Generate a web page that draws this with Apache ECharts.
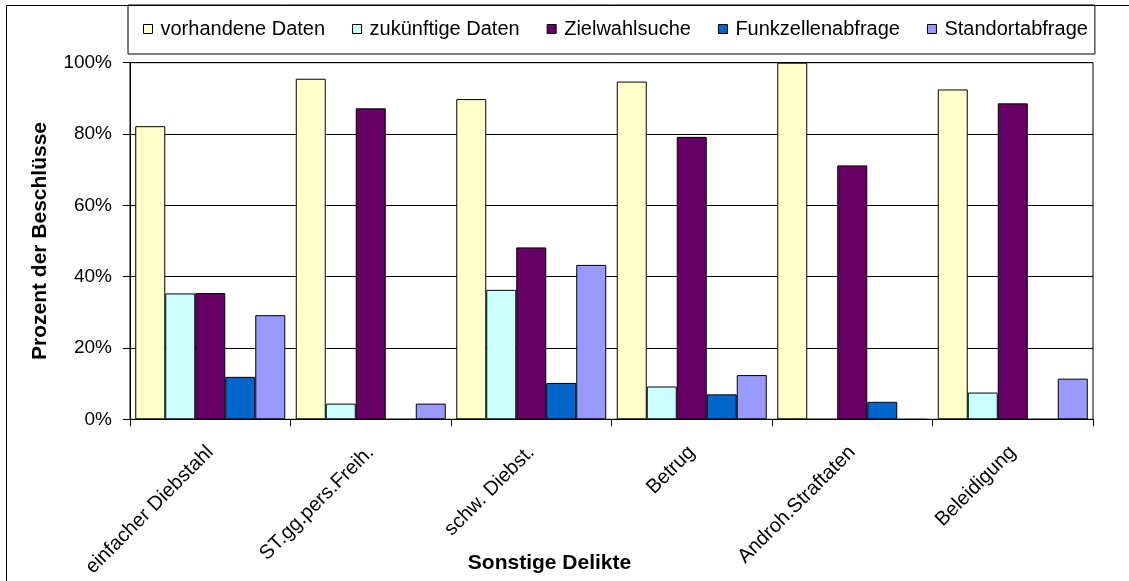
<!DOCTYPE html>
<html>
<head>
<meta charset="utf-8">
<script src="https://cdn.jsdelivr.net/npm/echarts@6/dist/echarts.min.js"></script>
<style>
html,body{margin:0;padding:0;background:#fff;}
#chart{width:1129px;height:581px;}
</style>
</head>
<body>
<div id="chart"></div>
<script>
const categories = ['einfacher Diebstahl', 'ST.gg.pers.Freih.', 'schw. Diebst.', 'Betrug', 'Androh.Straftaten', 'Beleidigung'];
const seriesNames = ['vorhandene Daten', 'zukünftige Daten', 'Zielwahlsuche', 'Funkzellenabfrage', 'Standortabfrage'];
const vorhandeneDaten   = [82.2, 95.5, 89.8, 94.7, 100.0, 92.5];
const zukuenftigeDaten  = [35.3, 4.4, 36.3, 9.2, 0, 7.5];
const zielwahlsuche     = [35.4, 87.2, 48.2, 79.2, 71.2, 88.6];
const funkzellenabfrage = [11.9, 0, 10.2, 7.0, 4.9, 0];
const standortabfrage   = [29.2, 4.4, 43.3, 12.4, 0, 11.4];
const yTicks = [0, 20, 40, 60, 80, 100];
const colors = ['#FFFFCC', '#CCFFFF', '#660066', '#0066CC', '#9999FF'];
const allValues = [vorhandeneDaten, zukuenftigeDaten, zielwahlsuche, funkzellenabfrage, standortabfrage];

const font = 'Liberation Sans, Arial, sans-serif';
const chart = echarts.init(document.getElementById('chart'), null, {renderer: 'canvas'});
chart.setOption({
  backgroundColor: '#fff',
  animation: false,
  textStyle: {fontFamily: font, color: '#000'},
  graphic: [{
    type: 'rect', z: -1,
    shape: {x: 6.5, y: 5.5, width: 1300, height: 800},
    style: {fill: 'none', stroke: '#000', lineWidth: 1}
  }],
  legend: {
    left: 128, top: 5,
    padding: [14, 7, 15, 15],
    borderColor: '#000', borderWidth: 1,
    itemWidth: 9, itemHeight: 9, itemGap: 27,
    icon: 'rect',
    itemStyle: {borderColor: '#000', borderWidth: 1},
    textStyle: {fontSize: 20, fontFamily: font, color: '#000', padding: [0, 0, 0, 3], lineHeight: 19},
    data: seriesNames
  },
  grid: {
    left: 130, right: 36, top: 62.7, bottom: 161.7,
    outerBoundsMode: 'none',
    containLabel: false,
    show: true, borderColor: '#000', borderWidth: 1, backgroundColor: 'transparent'
  },
  xAxis: {
    type: 'category',
    data: categories,
    name: 'Sonstige Delikte',
    nameLocation: 'middle',
    nameGap: 133,
    nameMoveOverlap: false,
    nameTextStyle: {fontSize: 21, fontWeight: 'bold', fontFamily: font, color: '#000', padding: [0, 124, 0, 0]},
    axisLine: {lineStyle: {color: '#000', width: 1}},
    axisTick: {show: true, length: 7, lineStyle: {color: '#000'}},
    axisLabel: {rotate: 45, fontSize: 20, fontFamily: font, color: '#000', margin: 30, interval: 0}
  },
  yAxis: {
    type: 'value',
    min: 0, max: 100, interval: 20,
    name: 'Prozent der Beschlüsse',
    nameLocation: 'middle',
    nameGap: 79,
    nameMoveOverlap: false,
    nameTextStyle: {fontSize: 21, fontWeight: 'bold', fontFamily: font, color: '#000'},
    axisLine: {show: true, lineStyle: {color: '#000', width: 1}},
    axisTick: {show: true, length: 7, lineStyle: {color: '#000'}},
    splitLine: {show: true, lineStyle: {color: '#000', width: 1}},
    axisLabel: {fontSize: 19, fontFamily: font, color: '#000', margin: 18,
      formatter: v => (yTicks.includes(v) ? v + '%' : '')}
  },
  series: seriesNames.map((name, i) => ({
    name: name,
    type: 'bar',
    data: allValues[i],
    barWidth: 30,
    barGap: '0%',
    itemStyle: {color: colors[i], borderColor: '#000', borderWidth: 1}
  }))
});
</script>
</body>
</html>
